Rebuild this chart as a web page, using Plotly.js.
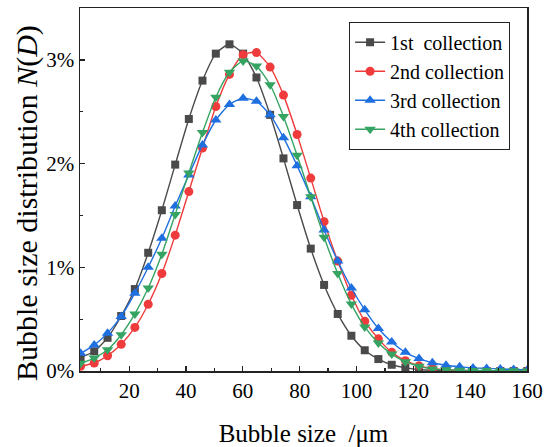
<!DOCTYPE html>
<html>
<head>
<meta charset="utf-8">
<script src="https://cdn.plot.ly/plotly-3.0.1.min.js"></script>
<style>html,body{margin:0;padding:0;background:#fff;}#chart{width:556px;height:447px;}</style>
</head>
<body>
<div id="chart"></div>
<script>
// Bubble size (µm)
const bubbleSize = [2.9, 7.7, 12.4, 17.2, 22.0, 26.7, 31.5, 36.2, 41.0, 45.8, 50.5, 55.3, 60.1, 64.8, 69.6, 74.3, 79.1, 83.9, 88.6, 93.4, 98.2, 102.9, 107.7, 112.4, 117.2, 122.0, 126.7, 131.5, 136.3, 141.0, 145.8, 150.6, 155.3, 160.1];
// N(D) in %
const collection1 = [0.13, 0.19, 0.32, 0.53, 0.79, 1.14, 1.55, 1.99, 2.43, 2.80, 3.06, 3.15, 3.06, 2.83, 2.47, 2.05, 1.60, 1.18, 0.83, 0.55, 0.34, 0.20, 0.115, 0.06, 0.03, 0.015, 0.007, 0.003, 0.002, 0.001, 0, 0, 0, 0];
const collection2 = [0.045, 0.077, 0.147, 0.257, 0.42, 0.644, 0.94, 1.31, 1.73, 2.15, 2.55, 2.86, 3.05, 3.07, 2.93, 2.66, 2.28, 1.86, 1.44, 1.06, 0.73, 0.48, 0.31, 0.18, 0.10, 0.05, 0.025, 0.012, 0.006, 0.003, 0.002, 0.001, 0.0005, 0];
const collection3 = [0.17, 0.25, 0.365, 0.526, 0.75, 1.0, 1.28, 1.59, 1.89, 2.18, 2.42, 2.57, 2.63, 2.60, 2.47, 2.25, 1.98, 1.68, 1.36, 1.06, 0.80, 0.59, 0.41, 0.28, 0.18, 0.12, 0.08, 0.055, 0.04, 0.03, 0.025, 0.02, 0.015, 0.01];
const collection4 = [0.074, 0.125, 0.205, 0.35, 0.55, 0.80, 1.125, 1.51, 1.91, 2.30, 2.64, 2.88, 2.99, 2.94, 2.76, 2.455, 2.08, 1.68, 1.29, 0.94, 0.645, 0.425, 0.27, 0.163, 0.09, 0.045, 0.02, 0.012, 0.008, 0.005, 0.004, 0.003, 0.002, 0.001];
const seriesNames = ["1st\u00a0 collection", "2nd collection", "3rd collection", "4th collection"];
const xTickVals = [20, 40, 60, 80, 100, 120, 140, 160];
const yTickVals = [0, 1, 2, 3];
const xTitle = "Bubble size\u00a0 /\u03bcm";
const yTitle = "Bubble size distribution <i>N</i>(<i>D</i>)";

const colors = ["#4a4a4a", "#ef3b3b", "#1f6fe0", "#35a462"];
const symbols = ["square", "circle", "triangle-up", "triangle-down"];
const sizes = [8, 9, 10, 10];
const ys = [collection1, collection2, collection3, collection4];

const traces = ys.map((y, i) => ({
  x: bubbleSize, y: y, name: seriesNames[i],
  type: "scatter", mode: "lines+markers",
  line: {color: colors[i], width: 1.4, shape: "spline", smoothing: 0.6},
  marker: {color: colors[i], symbol: symbols[i], size: sizes[i]},
  cliponaxis: true
}));

const font = "Liberation Serif, Times New Roman, serif";
const layout = {
  width: 556, height: 447,
  margin: {l: 80, r: 29, t: 8, b: 76},
  paper_bgcolor: "#fff", plot_bgcolor: "#fff",
  font: {family: font, color: "#000"},
  showlegend: true,
  legend: {
    x: 0.602, y: 0.962, xanchor: "left", yanchor: "top",
    bgcolor: "#fff", bordercolor: "#222", borderwidth: 1,
    font: {family: font, size: 20, color: "#000"},
    tracegroupgap: 0, itemwidth: 30
  },
  xaxis: {
    range: [2.7, 160], showgrid: false, zeroline: false,
    showline: true, linecolor: "#222", linewidth: 1.5, mirror: true,
    ticks: "inside", ticklen: 5, tickwidth: 1.3, tickcolor: "#222",
    tickvals: xTickVals, ticktext: xTickVals.map(String),
    tickfont: {family: font, size: 21, color: "#000"},
    minor: {ticks: "inside", ticklen: 3, tickwidth: 1.2, tickcolor: "#222", dtick: 10, tick0: 0, showgrid: false},
    title: {text: xTitle, font: {family: font, size: 25, color: "#000"}, standoff: 24}
  },
  yaxis: {
    range: [0, 3.5], showgrid: false, zeroline: false,
    showline: true, linecolor: "#222", linewidth: 1.5, mirror: true,
    ticks: "inside", ticklen: 5, tickwidth: 1.3, tickcolor: "#222",
    tickvals: yTickVals, ticktext: yTickVals.map(v => v + "%"),
    tickfont: {family: font, size: 21, color: "#000"},
    minor: {ticks: "inside", ticklen: 3, tickwidth: 1.2, tickcolor: "#222", dtick: 0.5, tick0: 0, showgrid: false}
  },
  annotations: [{
    text: yTitle, textangle: -90, showarrow: false,
    xref: "paper", yref: "paper", x: -0.117, y: 0.462,
    xanchor: "center", yanchor: "middle",
    font: {family: font, size: 30, color: "#000"}
  }]
};

Plotly.newPlot("chart", traces, layout, {displayModeBar: false, staticPlot: true});
</script>
</body>
</html>
